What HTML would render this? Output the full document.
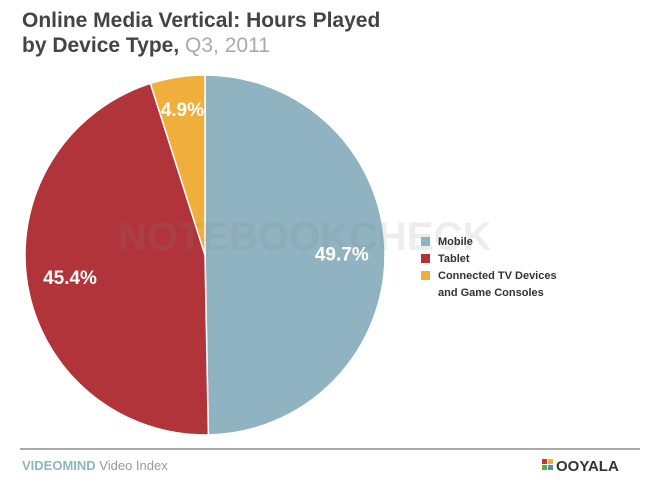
<!DOCTYPE html>
<html><head><meta charset="utf-8"><style>
body{margin:0;background:#fff;width:645px;height:484px;overflow:hidden;font-family:"Liberation Sans",sans-serif;}
</style></head><body>
<svg width="645" height="484">
<text x="22" y="27" font-size="21" font-weight="bold" fill="#444">Online Media Vertical: Hours Played</text>
<text x="22" y="52" font-size="21" font-weight="bold" fill="#444">by Device Type, <tspan fill="#aaa" font-weight="normal">Q3, 2011</tspan></text>
<g id="slices"></g>
<text x="118" y="250" font-size="40" font-weight="bold" fill="#888" fill-opacity="0.15">NOTEBOOKCHECK</text>
<g id="labels"></g>
<g>
<rect x="421" y="237" width="9" height="9" fill="#8fb3c0"/>
<text x="438" y="245" font-size="11" font-weight="bold" fill="#333">Mobile</text>
<rect x="421" y="254" width="9" height="9" fill="#b0343a"/>
<text x="438" y="262" font-size="11" font-weight="bold" fill="#333">Tablet</text>
<rect x="421" y="271" width="9" height="9" fill="#f0ae3c"/>
<text x="438" y="279" font-size="11" font-weight="bold" fill="#333">Connected TV Devices</text>
<text x="438" y="296" font-size="11" font-weight="bold" fill="#333">and Game Consoles</text>
</g>
<line x1="20" y1="449" x2="640" y2="449" stroke="#aaa" stroke-width="2"/>
<text x="22" y="470" font-size="13" fill="#8aa"><tspan font-weight="bold" fill="#8fb3c0">VIDEOMIND</tspan> <tspan fill="#999">Video Index</tspan></text>
<g>
<rect x="542" y="459" width="5" height="5" fill="#c33"/><rect x="548" y="459" width="5" height="5" fill="#f0ae3c"/>
<rect x="542" y="465" width="5" height="5" fill="#6a3"/><rect x="548" y="465" width="5" height="5" fill="#58b"/>
<text x="556" y="471" font-size="15" font-weight="bold" fill="#333">OOYALA</text>
</g>
</svg>
<script>
const categories=["Mobile","Tablet","Connected TV Devices and Game Consoles"];
const values=[49.7,45.4,4.9];
const colors=["#8fb3c0","#b0343a","#f0ae3c"];
const labelText=["49.7%","45.4%","4.9%"];
const cx=205,cy=255,r=180;
const ns="http://www.w3.org/2000/svg";
const total=values.reduce((a,b)=>a+b,0);
const sg=document.getElementById('slices'),lg=document.getElementById('labels');
function pt(a,rr){return [cx+rr*Math.sin(a),cy-rr*Math.cos(a)];}
let start=0;
values.forEach((v,i)=>{
  const ang=v/total*2*Math.PI,end=start+ang;
  const [x1,y1]=pt(start,r),[x2,y2]=pt(end,r);
  const p=document.createElementNS(ns,'path');
  p.setAttribute('d',`M${cx},${cy} L${x1},${y1} A${r},${r} 0 ${ang>Math.PI?1:0} 1 ${x2},${y2} Z`);
  p.setAttribute('fill',colors[i]);p.setAttribute('stroke','#fff');p.setAttribute('stroke-width','1.5');
  
  
  sg.appendChild(p);
  const mid=start+ang/2, lr=v<10?r*0.82:r*0.76;
  const [lx,ly]=pt(mid,lr);
  const t=document.createElementNS(ns,'text');
  t.setAttribute('x',lx);t.setAttribute('y',ly+7);t.setAttribute('text-anchor','middle');
  t.setAttribute('font-size','19');t.setAttribute('font-weight','bold');t.setAttribute('fill','#fff');
  t.textContent=labelText[i];
  
  
  lg.appendChild(t);
  start=end;
});
</script>
</body></html>
